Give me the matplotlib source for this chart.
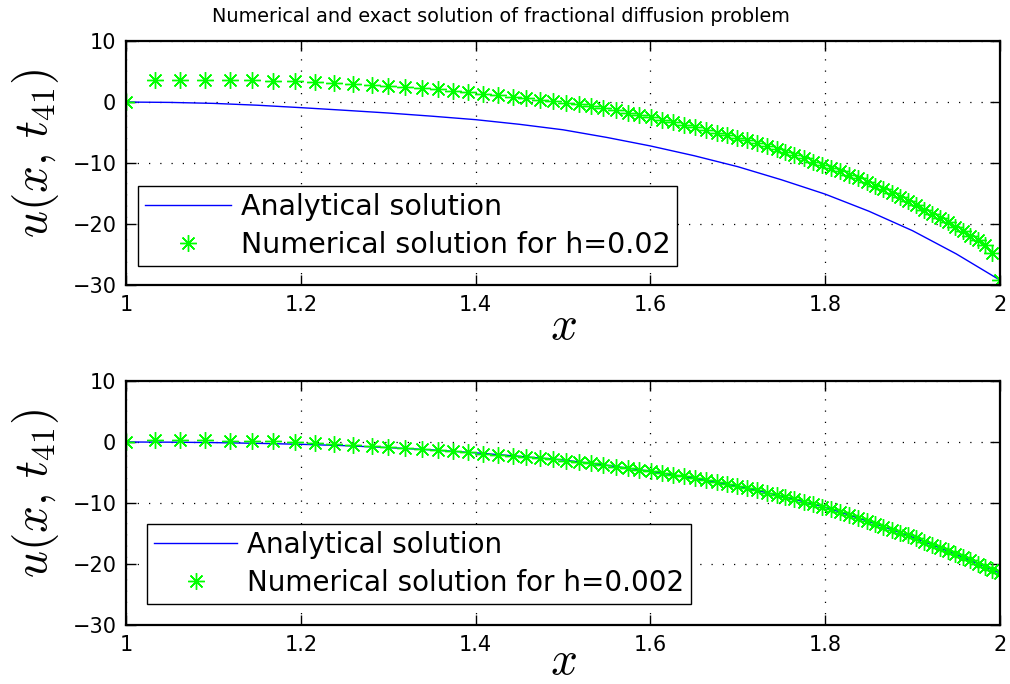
import matplotlib
matplotlib.use("Agg")
import matplotlib.pyplot as plt

plt.rcParams["font.family"] = ["DejaVu Sans"]
plt.rcParams["mathtext.fontset"] = "cm"

# Spatial nodes of the graded mesh
x_nodes = [
    1.0000, 1.0332, 1.0618, 1.0907, 1.1190, 1.1442, 1.1685, 1.1937, 1.2166, 1.2383,
    1.2601, 1.2811, 1.3001, 1.3192, 1.3383, 1.3566, 1.3745, 1.3916, 1.4088, 1.4260,
    1.4424, 1.4577, 1.4737, 1.4889, 1.5034, 1.5180, 1.5320, 1.5461, 1.5606, 1.5747,
    1.5873, 1.6003, 1.6133, 1.6262, 1.6388, 1.6510, 1.6633, 1.6758, 1.6876, 1.6994,
    1.7102, 1.7216, 1.7331, 1.7445, 1.7540, 1.7646, 1.7757, 1.7864, 1.7967, 1.8066,
    1.8169, 1.8272, 1.8372, 1.8475, 1.8570, 1.8665, 1.8761, 1.8856, 1.8947, 1.9039,
    1.9130, 1.9222, 1.9314, 1.9402, 1.9488, 1.9573, 1.9657, 1.9745, 1.9828, 1.9912,
    2.0000,
]

# Numerical solution, h = 0.02
u_num_coarse = [
    0.00, 3.56, 3.67, 3.67, 3.67, 3.56, 3.44, 3.39, 3.28, 3.11,
    3.02, 2.85, 2.62, 2.46, 2.30, 2.08, 1.80, 1.59, 1.38, 1.10,
    0.82, 0.61, 0.39, 0.16, -0.10, -0.40, -0.70, -1.02, -1.38, -1.75,
    -2.12, -2.50, -2.90, -3.30, -3.72, -4.15, -4.58, -5.02, -5.45, -5.88,
    -6.30, -6.74, -7.20, -7.70, -8.18, -8.70, -9.25, -9.78, -10.30, -10.82,
    -11.38, -11.94, -12.52, -13.12, -13.70, -14.32, -14.96, -15.62, -16.26, -16.93,
    -17.62, -18.32, -19.03, -19.73, -20.44, -21.16, -21.90, -22.70, -23.50, -24.70,
    -29.20,
]

# Numerical solution, h = 0.002
u_num_fine = [
    0.00, 0.26, 0.27, 0.26, 0.22, 0.16, 0.08, -0.02, -0.17, -0.33,
    -0.51, -0.69, -0.85, -1.02, -1.20, -1.37, -1.55, -1.72, -1.90, -2.10,
    -2.28, -2.46, -2.67, -2.86, -3.06, -3.30, -3.52, -3.76, -4.02, -4.28,
    -4.52, -4.76, -5.05, -5.35, -5.64, -5.93, -6.25, -6.57, -6.88, -7.18,
    -7.53, -7.91, -8.29, -8.67, -9.00, -9.39, -9.80, -10.20, -10.58, -11.01,
    -11.50, -11.98, -12.45, -12.93, -13.41, -13.90, -14.39, -14.87, -15.33, -15.82,
    -16.34, -16.87, -17.39, -17.89, -18.38, -18.90, -19.41, -19.95, -20.45, -20.96,
    -21.50,
]

# Exact solution at t_41 for each run
x_exact = [1.00, 1.05, 1.10, 1.15, 1.20, 1.25, 1.30, 1.35, 1.40, 1.45, 1.50,
           1.55, 1.60, 1.65, 1.70, 1.75, 1.80, 1.85, 1.90, 1.95, 2.00]
u_exact_coarse = [0.00, -0.06, -0.22, -0.52, -0.92, -1.35, -1.80, -2.32, -2.89, -3.65, -4.55,
                  -5.80, -7.20, -8.80, -10.60, -12.75, -15.10, -17.90, -21.10, -24.90, -29.20]
u_exact_fine = [0.00, -0.03, -0.10, -0.22, -0.38, -0.60, -0.92, -1.30, -1.78, -2.35, -2.95,
                -3.82, -4.80, -5.95, -7.25, -8.85, -10.70, -13.05, -15.60, -18.45, -21.50]

x_ticks = [1.0, 1.2, 1.4, 1.6, 1.8, 2.0]
x_tick_labels = ["1", "1.2", "1.4", "1.6", "1.8", "2"]
y_ticks = [-30, -20, -10, 0, 10]

panels = [
    (u_exact_coarse, u_num_coarse, "Numerical solution for h=0.02"),
    (u_exact_fine, u_num_fine, "Numerical solution for h=0.002"),
]

fig = plt.figure(figsize=(10.1, 6.84), dpi=100)
axes = [
    fig.add_axes([0.1248, 0.5833, 0.8653, 0.3567]),
    fig.add_axes([0.1248, 0.0863, 0.8653, 0.3567]),
]
legend_anchor = [(0.0137, 0.078), (0.024, 0.088)]
legend_size = [20.5, 20.0]
xlabel_pad = [-8, -11]

for ax, (u_ex, u_nm, lab), anchor, lsz, xpad in zip(axes, panels, legend_anchor,
                                                   legend_size, xlabel_pad):
    ax.plot(x_exact, u_ex, color=(0, 0, 1), linewidth=1.0, label="Analytical solution")
    ax.plot(x_nodes, u_nm, linestyle="none", marker=(8, 2, 0), markersize=12,
            markeredgewidth=1.0, color=(0, 1, 0), label=lab)
    ax.set_xlim(1, 2)
    ax.set_ylim(-30, 10)
    ax.set_xticks(x_ticks)
    ax.set_xticklabels(x_tick_labels)
    ax.set_yticks(y_ticks)
    ax.tick_params(direction="in", length=7, width=1, top=True, right=True,
                   labelsize=15, pad=7)
    for sp in ax.spines.values():
        sp.set_linewidth(1.6)
    ax.grid(True, color="k", linestyle=(0, (1, 8)), linewidth=0.9)
    ax.set_xlabel("$x$", fontsize=34, labelpad=xpad)
    ax.set_ylabel(r"$u(x,\,t_{41})$", fontsize=34, labelpad=2)
    ax.yaxis.set_label_coords(-0.075, 0.54)
    leg = ax.legend(loc="lower left", bbox_to_anchor=anchor, fontsize=lsz,
                    frameon=True, fancybox=False, edgecolor="k", framealpha=1,
                    borderpad=0.25, handlelength=3.0, labelspacing=0.35,
                    handletextpad=0.35, borderaxespad=0, numpoints=1)
    leg.get_frame().set_linewidth(1.0)

fig.text(501 / 1010, 1 - 17 / 684,
         "Numerical and exact solution of fractional diffusion problem",
         fontsize=13.9, ha="center", va="center")

fig.savefig("out.png", dpi=100)
